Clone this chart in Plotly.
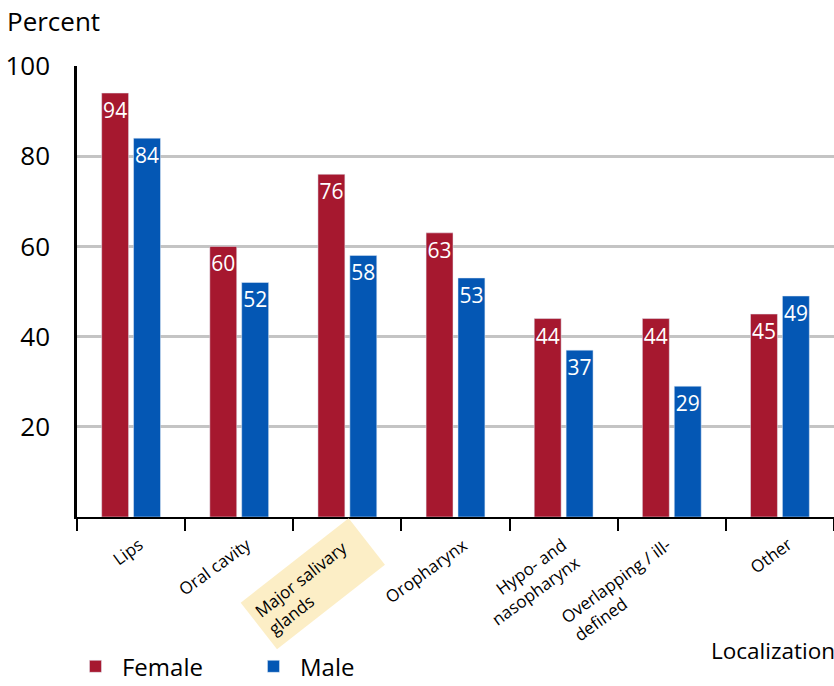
import plotly.graph_objects as go

categories = ["Lips", "Oral cavity", "Major salivary glands", "Oropharynx",
              "Hypo- and nasopharynx", "Overlapping / ill-defined", "Other"]
tick_labels = ["Lips", "Oral cavity", "Major salivary<br>glands", "Oropharynx",
               "Hypo- and<br>nasopharynx", "Overlapping / ill-<br>defined", "Other"]
female = [94, 60, 76, 63, 44, 44, 45]
male = [84, 52, 58, 53, 37, 29, 49]
y_ticks = [20, 40, 60, 80, 100]

RED = "#A6182F"
BLUE = "#0457B4"
FONT = "Open Sans"

fig = go.Figure()
for name, vals, col in [("Female", female, RED), ("Male", male, BLUE)]:
    fig.add_trace(go.Bar(
        name=name, x=categories, y=vals, marker_color=col,
        text=[str(v) for v in vals], textposition="inside", insidetextanchor="end",
        textangle=0, constraintext="none",
        textfont=dict(color="white", size=21, family=FONT),
    ))

fig.update_layout(
    width=834, height=686,
    margin=dict(l=77, r=0, t=66, b=169, autoexpand=False),
    paper_bgcolor="white", plot_bgcolor="white",
    barmode="group", bargap=0.41, bargroupgap=0.156,
    font=dict(family=FONT, color="black"),
    showlegend=True,
    legend=dict(orientation="h", x=-0.0106, xanchor="left", y=-0.332, yanchor="middle",
                font=dict(size=24, family=FONT), entrywidth=120, entrywidthmode="pixels",
                itemwidth=43, bgcolor="rgba(0,0,0,0)", borderwidth=0),
)

fig.update_xaxes(
    type="category", showline=True, linecolor="black", linewidth=2,
    ticks="outside", tickson="boundaries", ticklen=12, tickwidth=2, tickcolor="black",
    showticklabels=False, showgrid=False, zeroline=False,
)
fig.update_yaxes(
    range=[0, 100], tickvals=y_ticks, ticktext=[str(v) for v in y_ticks],
    tickfont=dict(size=26, family=FONT), ticks="", ticklabelstandoff=19,
    showline=True, linecolor="black", linewidth=2.5,
    showgrid=True, gridcolor="#C4C4C4", gridwidth=2.5, zeroline=False,
)

# rotated category labels
aligns = ["left", "left", "left", "left", "right", "left", "left"]
for i, (c, lab) in enumerate(zip(categories, tick_labels)):
    if i == 2:
        fig.add_annotation(
            x=c, y=0.0, xref="x", yref="paper", text=lab, showarrow=False,
            textangle=-38, xanchor="right", yanchor="top", xshift=38, yshift=-1,
            align="left", font=dict(size=17, family=FONT, color="black"),
            bgcolor="#FCEEC6", width=124, height=46, borderpad=6,
        )
    else:
        fig.add_annotation(
            x=c, y=-0.04, xref="x", yref="paper", text=lab, showarrow=False,
            textangle=-36, xanchor="right", yanchor="top",
            xshift=19 + (4 if i == 4 else 0), yshift=5,
            align=aligns[i], font=dict(size=17, family=FONT, color="black"),
        )

fig.add_annotation(text="Percent", x=-0.095, y=1.1, xref="paper", yref="paper",
                   xanchor="left", yanchor="middle",
                   showarrow=False, font=dict(size=26, family=FONT))
fig.add_annotation(text="Localization", x=1.0, y=-0.295, xref="paper", yref="paper",
                   xanchor="right", yanchor="middle", showarrow=False, xshift=3,
                   font=dict(size=22.5, family=FONT))

fig.write_html("out.html", config={"displayModeBar": False},
               post_script="document.body.style.margin='0';")
